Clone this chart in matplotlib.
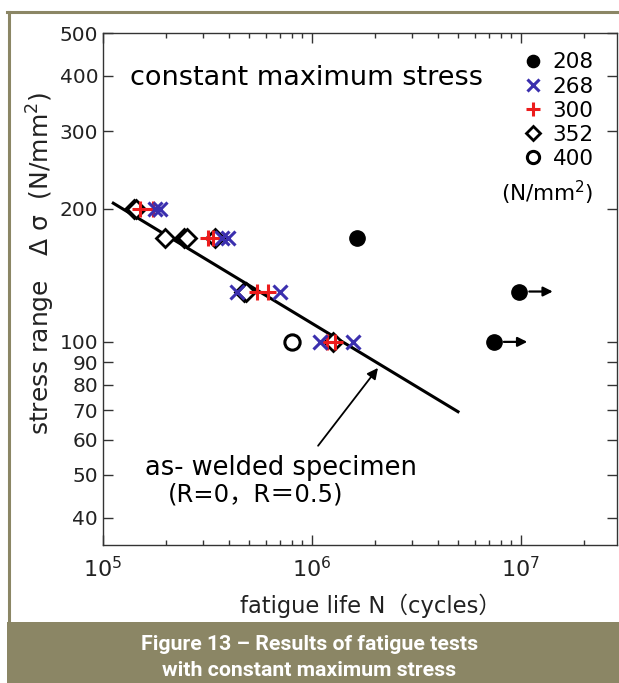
import matplotlib
matplotlib.use("Agg")
import matplotlib.pyplot as plt
from matplotlib.lines import Line2D
from matplotlib.patches import Rectangle
from matplotlib.ticker import FixedLocator, FixedFormatter, NullLocator, LogLocator, NullFormatter

plt.rcParams['font.family'] = ['DejaVu Sans', 'Noto Sans CJK JP']
plt.rcParams['mathtext.fontset'] = 'dejavusans'

# Fatigue test results (cycles to failure, stress range in N/mm^2)
# grouped by the constant maximum stress of each test series
n_208 = [1.64e6, 9.8e6, 7.4e6]
s_208 = [172, 130, 100]
runout_208 = [False, True, True]

n_268 = [1.78e5, 1.87e5, 3.71e5, 3.96e5, 4.37e5, 7.03e5, 1.09e6, 1.57e6]
s_268 = [200, 200, 172, 172, 130, 130, 100, 100]

n_300 = [1.50e5, 1.73e5, 3.18e5, 3.35e5, 5.46e5, 6.15e5, 1.18e6, 1.29e6]
s_300 = [200, 200, 172, 172, 130, 130, 100, 100]

n_352 = [1.40e5, 1.44e5, 1.98e5, 2.45e5, 2.52e5, 3.43e5, 4.72e5, 4.85e5, 1.26e6]
s_352 = [200, 200, 172, 172, 172, 172, 130, 130, 100]

n_400 = [8.0e5]
s_400 = [100]

# S-N design line for the as-welded specimen
line_n = [1.12e5, 5.0e6]
line_s = [206, 69.5]

y_ticks = [40, 50, 60, 70, 80, 90, 100, 200, 300, 400, 500]
y_tick_labels = ["40", "50", "60", "70", "80", "90", "100", "200", "300", "400", "500"]
series_labels = ["208", "268", "300", "352", "400"]

W, H = 619, 683
fig = plt.figure(figsize=(W / 100, H / 100), dpi=100)
fig.patch.set_facecolor('white')

olive = '#8b8665'
# outer frame and caption band
fig.add_artist(Line2D([8.5 / W, 8.5 / W], [(H - 622) / H, (H - 11.5) / H],
                      transform=fig.transFigure, color=olive, lw=2.2))
fig.add_artist(Line2D([7 / W, 1.0], [(H - 11.5) / H, (H - 11.5) / H],
                      transform=fig.transFigure, color=olive, lw=2.2))
fig.add_artist(Rectangle((7 / W, 0), 1 - 7 / W, 61 / H, transform=fig.transFigure,
                         facecolor=olive, edgecolor='none'))
fig.text(0.5, (H - 645) / H, "Figure 13 \u2013 Results of fatigue tests", color='white',
         ha='center', va='center', fontsize=15.3, fontweight='bold', family=['Roboto'])
fig.text(0.5, (H - 670) / H, "with constant maximum stress", color='white',
         ha='center', va='center', fontsize=15.3, fontweight='bold', family=['Roboto'])

ax = fig.add_axes([103 / W, 138 / H, 514 / W, 512 / H])
ax.set_xscale('log')
ax.set_yscale('log')
ax.set_xlim(1e5, 10 ** 7.46)
ax.set_ylim(34.7, 500)

ax.plot(line_n, line_s, color='black', lw=2.2, zorder=2)

ax.plot(n_352, s_352, ls='none', marker='D', ms=9, mfc='white', mec='black', mew=2,
        label=series_labels[3], zorder=3)
ax.plot(n_300, s_300, ls='none', marker='+', ms=12, mec='#ec1c1c', mew=2.2,
        label=series_labels[2], zorder=4)
ax.plot(n_268, s_268, ls='none', marker='x', ms=10, mec='#3b2fae', mew=2.2,
        label=series_labels[1], zorder=5)
ax.plot(n_400, s_400, ls='none', marker='o', ms=11, mfc='white', mec='black', mew=2.2,
        label=series_labels[4], zorder=3)
ax.plot(n_208, s_208, ls='none', marker='o', ms=11, mfc='black', mec='black',
        label=series_labels[0], zorder=3)

# run-outs: arrow pointing to longer life
for n, s, ro in zip(n_208, s_208, runout_208):
    if ro:
        ax.annotate('', xy=(n * 1.45, s), xytext=(n * 1.12, s),
                    arrowprops=dict(arrowstyle='-|>', color='black', lw=1.6,
                                    mutation_scale=14, shrinkA=0, shrinkB=0))

# legend in the series order 208 ... 400
handles, labels = ax.get_legend_handles_labels()
order = [labels.index(l) for l in series_labels]
leg = ax.legend([handles[i] for i in order], [labels[i] for i in order],
                loc='upper left', bbox_to_anchor=(0.816, 0.962), frameon=False,
                fontsize=15.5, handlelength=1.0, handletextpad=0.4, labelspacing=0.19,
                borderpad=0, borderaxespad=0, markerscale=0.8)
ax.text(0.865, 0.687, "(N/mm$^{2}$)", transform=ax.transAxes, ha='center', va='center',
        fontsize=15.5)

ax.text(0.052, 0.912, "constant maximum stress", transform=ax.transAxes,
        ha='left', va='center', fontsize=19.5)

# annotation for the S-N line
line_pt_n = 2.07e6
line_pt_s = 87.3
ax.annotate('', xy=(line_pt_n, line_pt_s), xytext=(1.07e6, 58.2),
            arrowprops=dict(arrowstyle='-|>', color='black', lw=1.3,
                            mutation_scale=16, shrinkA=0, shrinkB=0))
ax.text(0.082, 0.150, "as- welded specimen", transform=ax.transAxes,
        ha='left', va='center', fontsize=18.5)
ax.text(0.126, 0.098, "(R=0\uff0cR\uff1d0.5)", transform=ax.transAxes,
        ha='left', va='center', fontsize=17.5)

# axes styling
for sp in ax.spines.values():
    sp.set_color('#333333')
    sp.set_linewidth(1.0)

ax.yaxis.set_major_locator(FixedLocator(y_ticks))
ax.yaxis.set_major_formatter(FixedFormatter(y_tick_labels))
ax.yaxis.set_minor_locator(NullLocator())
ax.xaxis.set_major_locator(LogLocator(base=10, numticks=10))
ax.xaxis.set_minor_locator(LogLocator(base=10, subs=range(2, 10), numticks=20))
ax.xaxis.set_minor_formatter(NullFormatter())

ax.tick_params(which='both', direction='in', top=True, right=True, colors='#333333',
               labelcolor='#222222')
ax.tick_params(which='major', length=7, width=1.0, labelsize=14.5)
ax.tick_params(axis='y', which='major', pad=3.5)
ax.tick_params(axis='x', which='major', pad=8, labelsize=16)
ax.tick_params(which='minor', length=3.5, width=1.0)

ax.set_xlabel("fatigue life N\uff08cycles\uff09", fontsize=16.3, color='#222222', labelpad=6)
ax.xaxis.set_label_coords(0.52, -0.095)
ax.set_ylabel("stress range   \u0394 \u03c3  (N/mm$^{2}$)", fontsize=18, color='#222222')
ax.yaxis.set_label_coords(-0.09, 0.549)

fig.savefig("out.png", dpi=100, facecolor='white')
